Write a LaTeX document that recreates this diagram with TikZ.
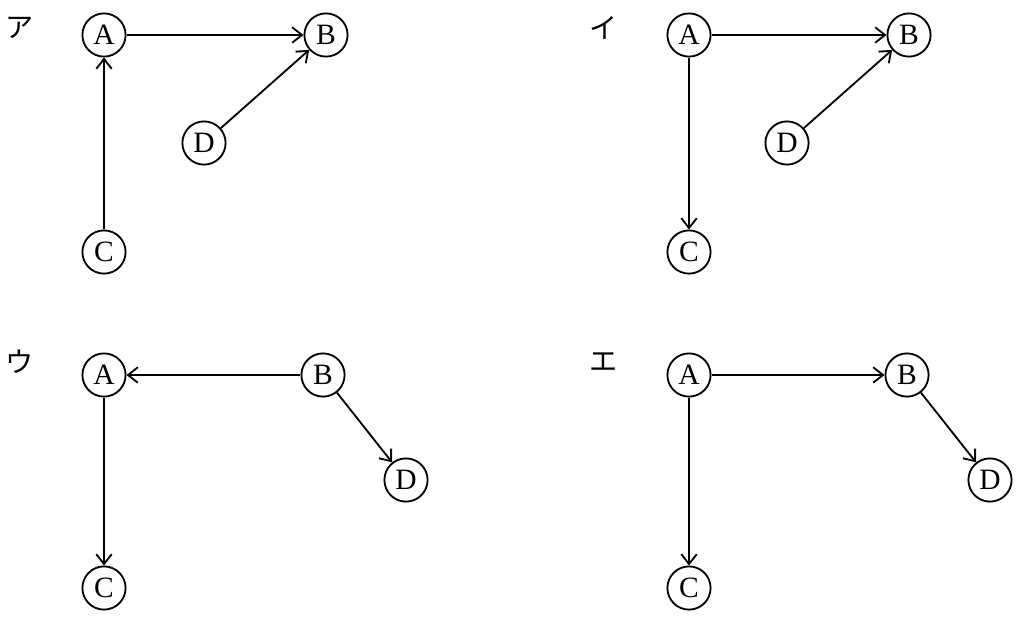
\documentclass[tikz,border=0pt]{standalone}
\usepackage{fontspec}
\setmainfont{Liberation Serif}
\newfontfamily\jpfont{Noto Sans CJK JP}
\usetikzlibrary{arrows.meta}
\tikzset{
  vert/.style={draw, circle, line width=1.3pt, minimum size=1.08cm, inner sep=0pt,
    font=\fontsize{21}{24}\selectfont},
  edge/.style={line width=1.3pt, -{Straight Barb[length=7pt,width=11pt]}},
  tag/.style={font=\jpfont\fontsize{20}{22}\selectfont}
}
\begin{document}
\begin{tikzpicture}
  \useasboundingbox (0,0) rectangle (25.65,-15.575);
  % ア
  \node[tag] (L1) at (0.5,-0.7) {ア};
  \node[vert] (A1) at (2.6,-0.875) {A};
  \node[vert] (B1) at (8.15,-0.875) {B};
  \node[vert] (D1) at (5.1,-3.575) {D};
  \node[vert] (C1) at (2.6,-6.3) {C};
  \draw[edge] (A1) to (B1);
  \draw[edge] (D1) to (B1);
  \draw[edge] (C1) to (A1);
  % イ
  \node[tag] (L2) at (15.1,-0.7) {イ};
  \node[vert] (A2) at (17.225,-0.875) {A};
  \node[vert] (B2) at (22.725,-0.875) {B};
  \node[vert] (D2) at (19.675,-3.575) {D};
  \node[vert] (C2) at (17.225,-6.3) {C};
  \draw[edge] (A2) to (B2);
  \draw[edge] (D2) to (B2);
  \draw[edge] (A2) to (C2);
  % ウ
  \node[tag] (L3) at (0.5,-9.05) {ウ};
  \node[vert] (A3) at (2.6,-9.375) {A};
  \node[vert] (B3) at (8.075,-9.375) {B};
  \node[vert] (D3) at (10.15,-12.0) {D};
  \node[vert] (C3) at (2.6,-14.7) {C};
  \draw[edge] (B3) to (A3);
  \draw[edge] (A3) to (C3);
  \draw[edge] (B3) to (D3);
  % エ
  \node[tag] (L4) at (15.1,-9.05) {エ};
  \node[vert] (A4) at (17.225,-9.375) {A};
  \node[vert] (B4) at (22.675,-9.375) {B};
  \node[vert] (D4) at (24.75,-12.0) {D};
  \node[vert] (C4) at (17.225,-14.7) {C};
  \draw[edge] (A4) to (B4);
  \draw[edge] (A4) to (C4);
  \draw[edge] (B4) to (D4);
\end{tikzpicture}
\end{document}
